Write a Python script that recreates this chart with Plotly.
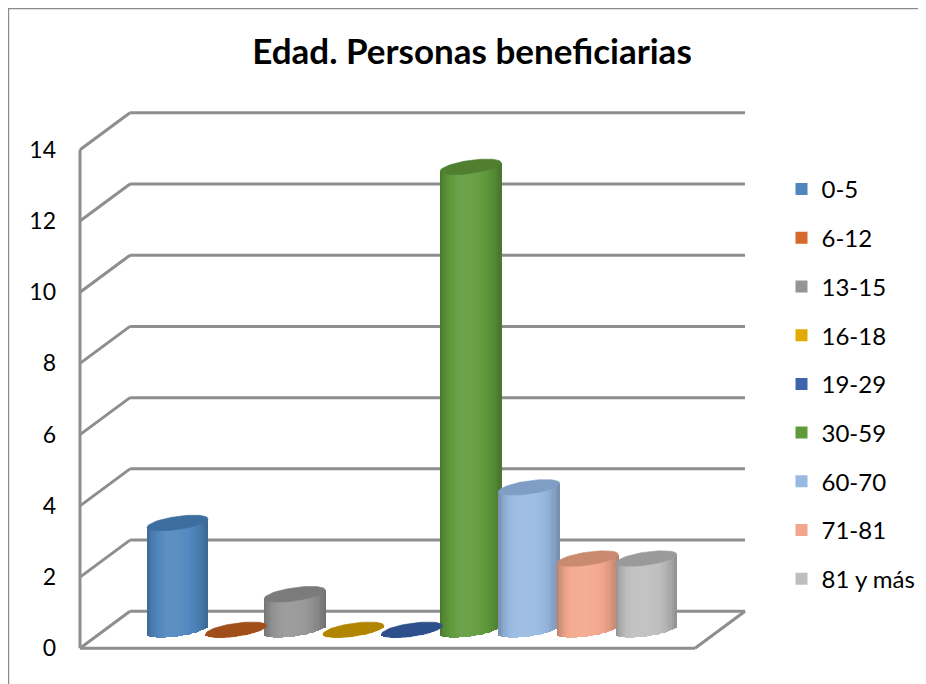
import math
import plotly.graph_objects as go

# ---- data ----
categories = ["0-5", "6-12", "13-15", "16-18", "19-29", "30-59", "60-70", "71-81", "81 y más"]
values = [3, 0, 1, 0, 0, 13, 4, 2, 2]
legend_colors = ["#4F86BE", "#D4692B", "#959595", "#E2AA00", "#3F63AD",
                 "#5F9A3B", "#98B9E1", "#F2A78C", "#BEBEBE"]
top_colors = ["#3E6E9F", "#A04E1A", "#7B7B7B", "#B08600", "#2D4F8C",
              "#4F7F2F", "#7F9EC5", "#C98A70", "#9A9A9A"]
y_ticks = [0, 2, 4, 6, 8, 10, 12, 14]

# ---- geometry of the pseudo-3D frame (axis units) ----
OFF = 8                         # page body margin
W, H = 918, 676
ML, MT = 67, 99
PW, PH = 674, 552
MR = W - ML - PW
MB = H - MT - PH
XR = [-1.75, 9.75]
YR = [-0.3, 15.2]
PXX = PW / (XR[1] - XR[0])
PXY = PH / (YR[1] - YR[0])
X0PX = ML + (0 - XR[0]) * PXX


def px2x(page_px):
    return (page_px - OFF - X0PX) / PXX


XL = px2x(80)                   # front-left edge
DX = 50 / PXX                   # depth offset, x
D = 37 / PXY                    # depth offset, y
XFR = px2x(695)                 # floor front-right
XBR = XFR + DX                  # back wall right

A = 0.52                        # cylinder half width (x units)
B = 6.6 / PXY                   # ellipse minor semi-axis
K = 4.2 / PXY                   # ellipse tilt
N = 26                          # shading strips


def hex2rgb(h):
    h = h.lstrip("#")
    return [int(h[i:i + 2], 16) for i in (0, 2, 4)]


def shade(hexc, f):
    r = hex2rgb(hexc)
    if f <= 1:
        c = [v * f for v in r]
    else:
        t = min(f - 1, 1)
        c = [v + (255 - v) * t for v in r]
    return "rgb(%d,%d,%d)" % tuple(max(0, min(255, round(v))) for v in c)


def gfac(s, s0=-0.2):
    t = (s - s0) / (1 - s0) if s > s0 else (s - s0) / (1 + s0)
    return 0.72 + 0.36 * max(0.0, math.cos(t * math.pi / 2)) ** 0.6


fig = go.Figure()

# cylinder bodies as shaded strips of bars
for i, (cat, v, col) in enumerate(zip(categories, values, legend_colors)):
    xs, bases, hs, cols = [], [], [], []
    step = 2 * A / N
    for k in range(N):
        s = -1 + (k + 0.5) * (2 / N)
        u = s * A
        base = D / 2 + K * s - B * math.sqrt(max(0.0, 1 - s * s))
        top = v + D / 2 + K * s
        xs.append(i + u)
        bases.append(base)
        hs.append(top - base)
        cols.append(shade(col, gfac(s)))
    # put the strip nearest the legend colour first (legend swatch uses it)
    best = min(range(N), key=lambda k: abs(gfac(-1 + (k + 0.5) * (2 / N)) - 1))
    order = [best] + [k for k in range(N) if k != best]
    cols[best] = col
    fig.add_trace(go.Bar(
        name=cat, legendgroup=cat, showlegend=True,
        x=[xs[k] for k in order], y=[hs[k] for k in order],
        base=[bases[k] for k in order],
        marker=dict(color=[cols[k] for k in order], line=dict(width=0)),
        width=step * 1.35, hoverinfo="skip",
    ))

# top ellipses
for i, (cat, v, tc) in enumerate(zip(categories, values, top_colors)):
    ex, ey = [], []
    for k in range(73):
        t = 2 * math.pi * k / 72
        ex.append(i + A * math.cos(t))
        ey.append(v + D / 2 + B * math.sin(t) + K * math.cos(t))
    fig.add_trace(go.Scatter(
        x=ex, y=ey, mode="lines", fill="toself", fillcolor=tc,
        line=dict(width=0.6, color=tc), showlegend=False,
        legendgroup=cat, hoverinfo="skip",
    ))

# frame: walls and floor (behind bars)
gl = dict(color="#8E8E8E", width=3)
shapes = []
shapes.append(dict(type="line", xref="x", yref="y", x0=XL, y0=0, x1=XL, y1=y_ticks[-1],
                   line=gl, layer="below"))
for tv in y_ticks:
    shapes.append(dict(type="line", xref="x", yref="y", x0=XL, y0=tv, x1=XL + DX, y1=tv + D,
                       line=gl, layer="below"))
    shapes.append(dict(type="line", xref="x", yref="y", x0=XL + DX, y0=tv + D, x1=XBR, y1=tv + D,
                       line=gl, layer="below"))
shapes.append(dict(type="line", xref="x", yref="y", x0=XL, y0=0, x1=XFR, y1=0,
                   line=gl, layer="below"))
shapes.append(dict(type="line", xref="x", yref="y", x0=XFR, y0=0, x1=XBR, y1=D,
                   line=gl, layer="below"))
# outer chart border
shapes.append(dict(type="rect", xref="paper", yref="paper",
                   x0=(0.6 - ML) / PW, x1=(913 - ML) / PW,
                   y0=(H - MB - 720) / PH, y1=(H - MB - 0.6) / PH,
                   line=dict(color="#8A8A8A", width=1.2), layer="below"))

fig.update_layout(
    width=W, height=H,
    margin=dict(l=ML, r=MR, t=MT, b=MB, autoexpand=False),
    paper_bgcolor="white", plot_bgcolor="white",
    barmode="overlay", bargap=0,
    font=dict(family="Lato", color="black"),
    title=dict(text="<b>Edad. Personas beneficiarias</b>", x=(472 - OFF) / W, xref="container",
               xanchor="center", y=1 - (52 - OFF) / H, yanchor="middle",
               font=dict(size=35, family="Lato", color="black")),
    xaxis=dict(range=XR, visible=False, fixedrange=True),
    yaxis=dict(range=YR, tickvals=y_ticks, ticktext=[str(t) for t in y_ticks],
               showgrid=False, zeroline=False, showline=False, ticks="", automargin=False,
               ticklabelstandoff=18, tickfont=dict(size=23, family="Lato", color="black")),
    legend=dict(x=(773.5 - ML) / PW, xanchor="left", y=(H - MB - 159) / PH, yanchor="top",
                traceorder="grouped", tracegroupgap=14.5, font=dict(size=24, family="Lato"),
                bgcolor="rgba(0,0,0,0)"),
    shapes=shapes,
    showlegend=True,
)

fig.write_html("out.html")
